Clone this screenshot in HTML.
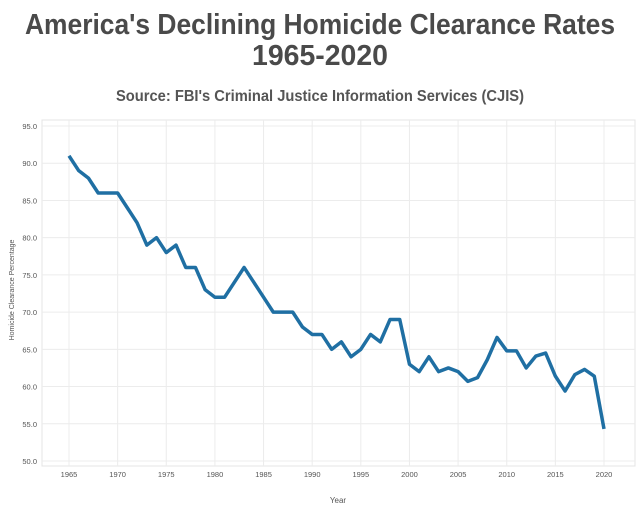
<!DOCTYPE html>
<html><head><meta charset="utf-8"><style>
body{margin:0;background:#fff;width:640px;height:512px;overflow:hidden;font-family:"Liberation Sans",sans-serif}
</style></head><body>
<svg width="640" height="512">
<text x="320" y="34" text-anchor="middle" font-size="29" font-weight="bold" fill="#4a4a4a" textLength="590" lengthAdjust="spacingAndGlyphs">America's Declining Homicide Clearance Rates</text>
<text x="320" y="65" text-anchor="middle" font-size="29" font-weight="bold" fill="#4a4a4a" textLength="136" lengthAdjust="spacingAndGlyphs">1965-2020</text>
<text x="320" y="101" text-anchor="middle" font-size="16" font-weight="bold" fill="#555" textLength="408" lengthAdjust="spacingAndGlyphs">Source: FBI's Criminal Justice Information Services (CJIS)</text>
<rect x="42" y="120" width="593" height="346" fill="none" stroke="#e4e4e4"/>
<g id="grid"></g><g id="yt"></g><g id="xt"></g>
<path id="line" fill="none" stroke="#1f6fa3" stroke-width="3.5" stroke-linejoin="round"/>
<text x="338" y="503" text-anchor="middle" font-size="8" fill="#555">Year</text>
<text transform="translate(14,290) rotate(-90)" text-anchor="middle" font-size="7" fill="#555">Homicide Clearance Percentage</text>
</svg>
<script>
const years=[1965,1966,1967,1968,1969,1970,1971,1972,1973,1974,1975,1976,1977,1978,1979,1980,1981,1982,1983,1984,1985,1986,1987,1988,1989,1990,1991,1992,1993,1994,1995,1996,1997,1998,1999,2000,2001,2002,2003,2004,2005,2006,2007,2008,2009,2010,2011,2012,2013,2014,2015,2016,2017,2018,2019,2020];
const rates=[91,89,88,86,86,86,84,82,79,80,78,79,76,76,73,72,72,74,76,74,72,70,70,70,68,67,67,65,66,64,65,67,66,69,69,63,62,64,62,62.5,62,60.7,61.2,63.6,66.6,64.8,64.8,62.5,64.1,64.5,61.4,59.4,61.6,62.3,61.4,54.3];
const yTicks=[50,55,60,65,70,75,80,85,90,95];
const xTicks=[1965,1970,1975,1980,1985,1990,1995,2000,2005,2010,2015,2020];
const NS="http://www.w3.org/2000/svg";
const xs=y=>69+(y-1965)*(604-69)/55;
const ys=v=>461-(v-50)*(461-126)/45;
const grid=document.getElementById('grid'),yt=document.getElementById('yt'),xt=document.getElementById('xt');
yTicks.forEach(v=>{
 const l=document.createElementNS(NS,'line');
 
 
 l.setAttribute('x1',42);l.setAttribute('x2',635);l.setAttribute('y1',ys(v));l.setAttribute('y2',ys(v));l.setAttribute('stroke','#ececec');
 grid.appendChild(l);
 const t=document.createElementNS(NS,'text');
 
 
 t.setAttribute('x',37);t.setAttribute('y',ys(v)+3);t.setAttribute('text-anchor','end');t.setAttribute('font-size','7.5');t.setAttribute('fill','#555');
 t.textContent=v.toFixed(1);yt.appendChild(t);
});
xTicks.forEach(v=>{
 const l=document.createElementNS(NS,'line');
 
 
 l.setAttribute('x1',xs(v));l.setAttribute('x2',xs(v));l.setAttribute('y1',120);l.setAttribute('y2',466);l.setAttribute('stroke','#ececec');
 grid.appendChild(l);
 const t=document.createElementNS(NS,'text');
 
 
 t.setAttribute('x',xs(v));t.setAttribute('y',477);t.setAttribute('text-anchor','middle');t.setAttribute('font-size','7.5');t.setAttribute('fill','#555');
 t.textContent=v;xt.appendChild(t);
});
document.getElementById('line').setAttribute('d',years.map((y,i)=>(i?'L':'M')+xs(y)+','+ys(rates[i])).join(''));
</script>
</body></html>
